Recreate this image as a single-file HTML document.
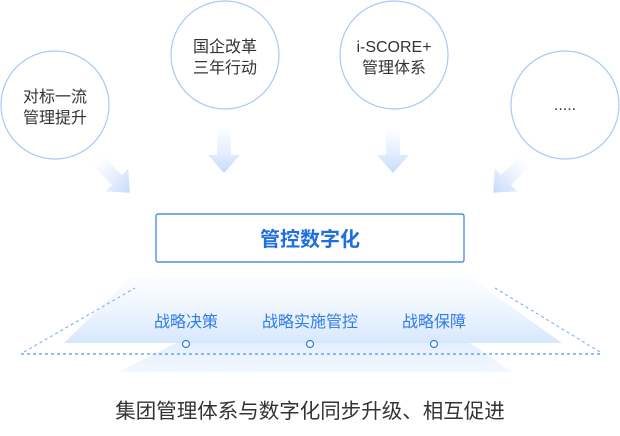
<!DOCTYPE html>
<html><head><meta charset="utf-8"><style>
body{margin:0;width:620px;height:431px;background:#fff;overflow:hidden;font-family:"Liberation Sans","Noto Sans CJK SC",sans-serif;}
</style></head><body>
<svg width="620" height="431" viewBox="0 0 620 431" xmlns="http://www.w3.org/2000/svg" font-family="Liberation Sans, Noto Sans CJK SC, sans-serif">
<defs>
<linearGradient id="tr" x1="0" y1="0" x2="0" y2="1"><stop offset="0" stop-color="#eef5ff" stop-opacity="0.2"/><stop offset="1" stop-color="#d6e7fd"/></linearGradient>
<linearGradient id="tr2" x1="0" y1="0" x2="0" y2="1"><stop offset="0" stop-color="#e3eefd"/><stop offset="1" stop-color="#f3f8ff"/></linearGradient>
<linearGradient id="ar" x1="0" y1="0" x2="0" y2="1"><stop offset="0" stop-color="#d7e7fd" stop-opacity="0"/><stop offset="1" stop-color="#c4dafc"/></linearGradient>
<path id="a" d="M-7,-28 L7,-28 L7,0 L16,0 L0,18 L-16,0 L-7,0 Z"/>
</defs>
<g fill="none" stroke="#a9c8f7" stroke-width="1.2">
<circle cx="55" cy="105" r="54"/><circle cx="225" cy="55" r="54"/><circle cx="394" cy="55" r="54"/><circle cx="565" cy="105" r="54"/>
</g>
<g font-size="16" fill="#333" text-anchor="middle">
<text x="55" y="102">对标一流</text><text x="55" y="123">管理提升</text>
<text x="225" y="52">国企改革</text><text x="225" y="73">三年行动</text>
<text x="394" y="52">i-SCORE+</text><text x="394" y="73">管理体系</text>
<text x="565" y="110">.....</text>
</g>
<g fill="url(#ar)">
<use href="#a" transform="translate(224,155)"/>
<use href="#a" transform="translate(393,155)"/>
<use href="#a" transform="translate(117,180) rotate(-45)"/>
<use href="#a" transform="translate(506,180) rotate(45)"/>
</g>
<rect x="156" y="214" width="308" height="48" rx="2" fill="#fff" stroke="#2f7be8" stroke-width="1.2"/>
<text x="310" y="246" text-anchor="middle" font-size="20" font-weight="bold" fill="#1f6fe0">管控数字化</text>
<polygon points="132,276 468,276 562,343 64,343" fill="url(#tr)"/>
<polygon points="176,343 470,343 512,372 118,372" fill="url(#tr2)"/>
<g stroke="#2f7be8" stroke-width="1.1" stroke-dasharray="3,3" fill="none">
<line x1="21" y1="354" x2="603" y2="354"/>
<line x1="24" y1="352" x2="135" y2="288" stroke-opacity="0.6"/>
<line x1="600" y1="352" x2="495" y2="288" stroke-opacity="0.6"/>
</g>
<g font-size="16" fill="#2f7be8" text-anchor="middle">
<text x="186" y="327">战略决策</text><text x="310" y="327">战略实施管控</text><text x="434" y="327">战略保障</text>
</g>
<g fill="#fff" stroke="#2f7be8" stroke-width="1.2">
<circle cx="186" cy="344" r="3.5"/><circle cx="310" cy="344" r="3.5"/><circle cx="434" cy="344" r="3.5"/>
</g>
<text x="310" y="418" text-anchor="middle" font-size="20.5" fill="#333">集团管理体系与数字化同步升级、相互促进</text>
</svg>
</body></html>
